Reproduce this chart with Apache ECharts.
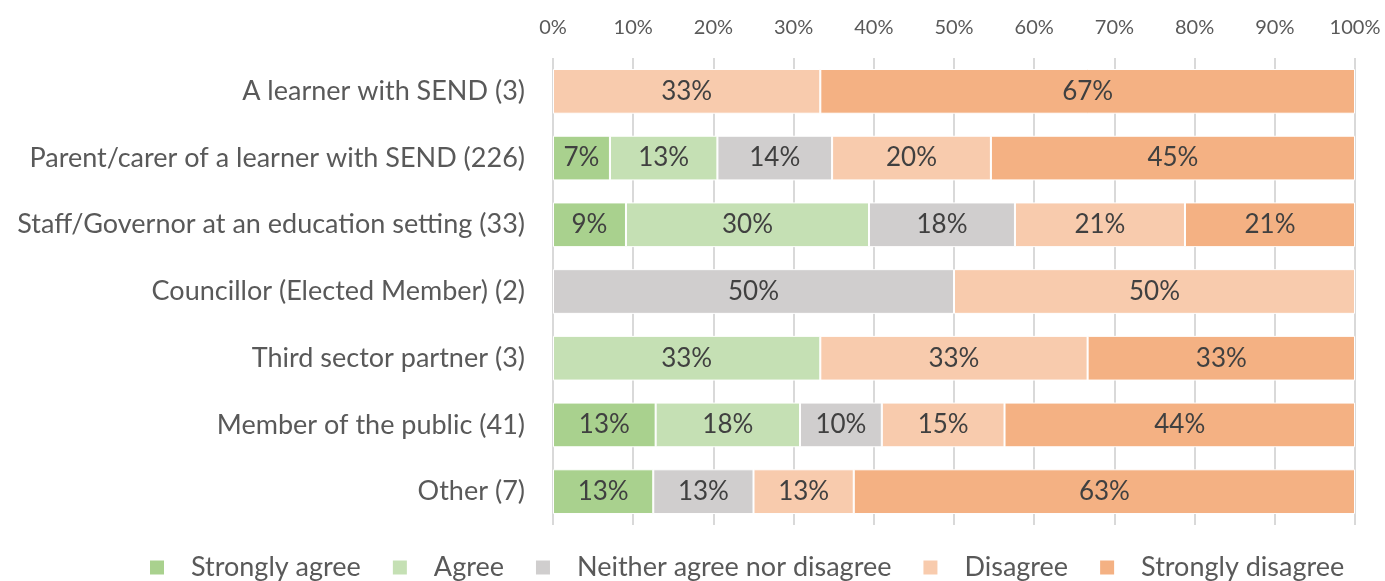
<!DOCTYPE html>
<html><head><meta charset="utf-8">
<script src="https://cdn.jsdelivr.net/npm/echarts@6/dist/echarts.min.js"></script>
<style>html,body{margin:0;padding:0;background:#fff}#c{width:1385px;height:581px}</style>
</head><body><div id="c"></div>
<script>
const categories = [
  "A learner with SEND (3)",
  "Parent/carer of a learner with SEND (226)",
  "Staff/Governor at an education setting (33)",
  "Councillor (Elected Member) (2)",
  "Third sector partner (3)",
  "Member of the public (41)",
  "Other (7)"
];
const seriesNames = ["Strongly agree","Agree","Neither agree nor disagree","Disagree","Strongly disagree"];
const stronglyAgree    = [null, 7.1, 9.1, null, null, 12.8, 12.5];
const agree            = [null, 13.4, 30.3, null, 33.33, 18.0, null];
const neither          = [null, 14.3, 18.2, 50, null, 10.2, 12.5];
const disagree         = [33.33, 19.8, 21.2, 50, 33.33, 15.3, 12.5];
const stronglyDisagree = [66.67, 45.4, 21.2, null, 33.34, 43.7, 62.5];
const tickLabels = ["0%","10%","20%","30%","40%","50%","60%","70%","80%","90%","100%"];
const colors = ["#a9d18e","#c5e0b4","#d0cece","#f8cbad","#f4b183"];

const FONT = "Lato";
const values = [stronglyAgree, agree, neither, disagree, stronglyDisagree];
const chart = echarts.init(document.getElementById('c'), null, {renderer:'canvas'});
chart.setOption({
  animation:false,
  textStyle:{fontFamily:FONT},
  grid:{left:553, right:30, top:58, bottom:56, containLabel:false},
  legend:{
    bottom:-5, left:143,
    itemWidth:16, itemHeight:16, itemGap:30,
    icon:'rect',
    textStyle:{fontFamily:FONT, fontSize:27, color:'#595959', padding:[0,0,0,21]},
    data:seriesNames
  },
  xAxis:{
    type:'value', position:'top', min:0, max:100, interval:10,
    axisLine:{show:false}, axisTick:{show:false},
    splitLine:{show:true, lineStyle:{color:'#d9d9d9', width:2}},
    axisLabel:{fontFamily:FONT, fontSize:20, color:'#595959', margin:20,
      formatter:(v)=>tickLabels[Math.round(v/10)]}
  },
  yAxis:{
    type:'category', inverse:true, data:categories,
    axisLine:{show:false}, axisTick:{show:false},
    axisLabel:{fontFamily:FONT, fontSize:27, color:'#595959', margin:28}
  },
  series: seriesNames.map((n,i)=>({
    name:n, type:'bar', stack:'total', barCategoryGap:'33%',
    data:values[i],
    itemStyle:{color:colors[i], borderColor:'#fff', borderWidth:1},
    label:{show:true, position:'inside', fontFamily:FONT, fontSize:26, color:'#404040',
      formatter:(p)=> p.value==null? '' : Math.round(p.value)+'%'}
  }))
});
</script></body></html>
